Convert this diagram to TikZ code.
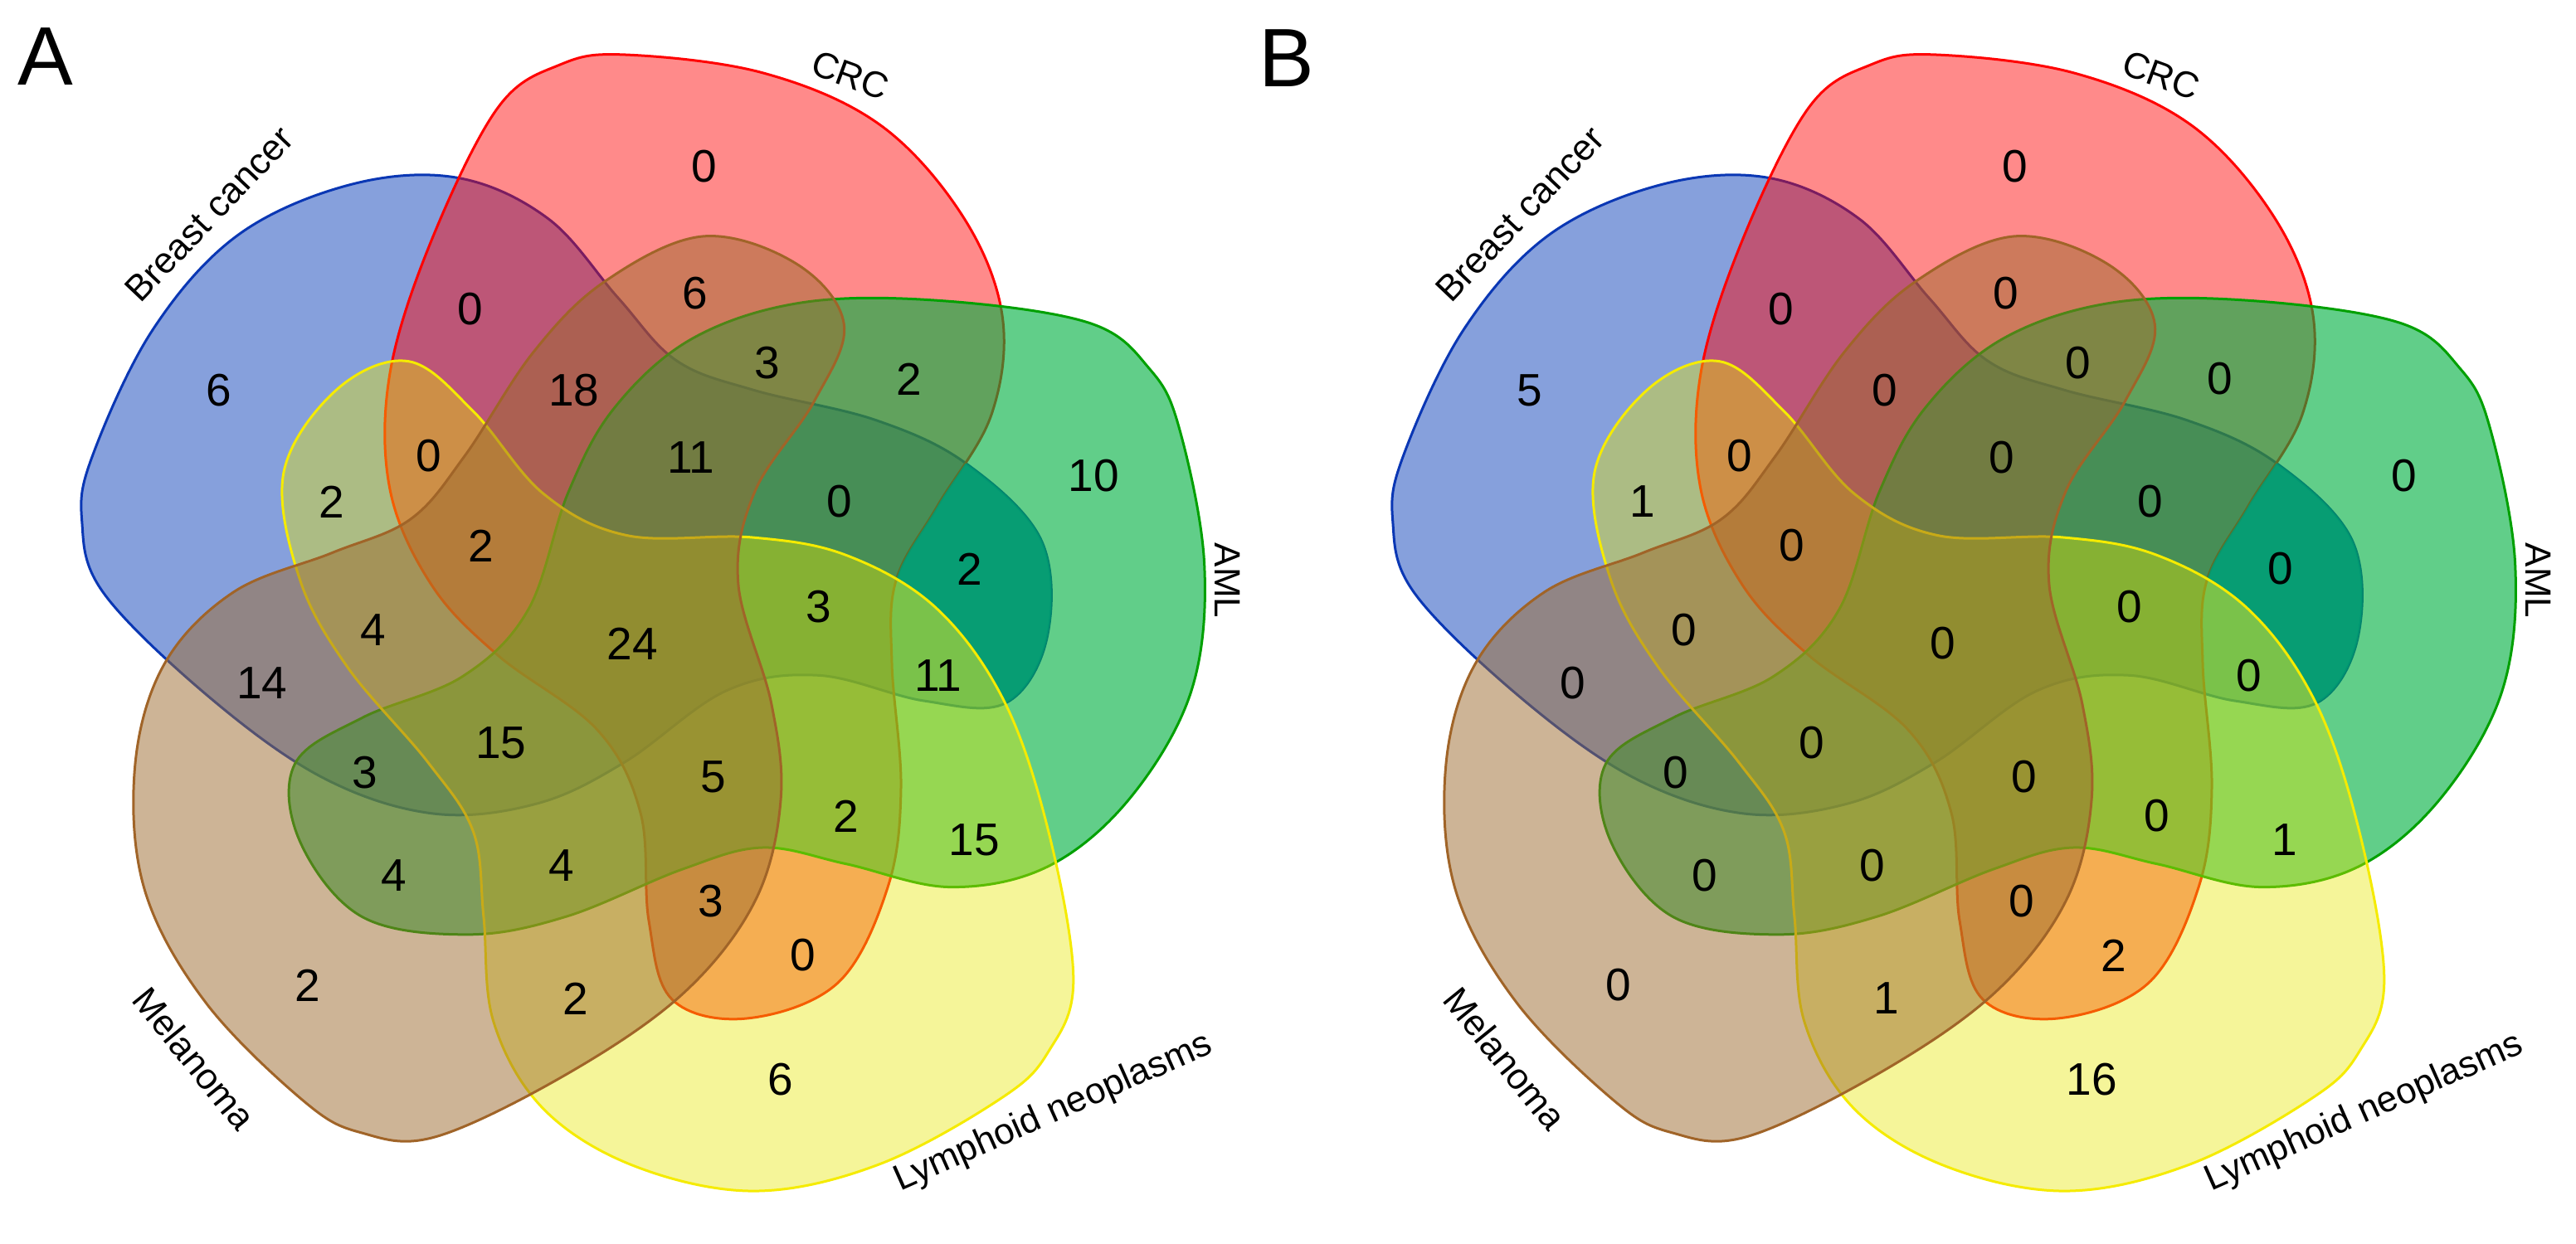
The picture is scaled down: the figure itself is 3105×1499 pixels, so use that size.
\documentclass[tikz,border=0pt]{standalone}
\usepackage{fontspec}
\setmainfont{Liberation Sans}
\definecolor{bluef}{RGB}{32,80,192}
\definecolor{bluel}{RGB}{10,55,180}
\definecolor{redf}{RGB}{255,0,0}
\definecolor{redl}{RGB}{255,0,0}
\definecolor{greenf}{RGB}{0,177,66}
\definecolor{greenl}{RGB}{0,160,0}
\definecolor{yellowf}{RGB}{230,230,0}
\definecolor{yellowl}{RGB}{245,235,0}
\definecolor{brownf}{RGB}{157,107,47}
\definecolor{brownl}{RGB}{160,100,40}
\definecolor{tealfix}{RGB}{0,155,114}
\tikzset{
  vshape/.style={insert path={plot[smooth cycle,tension=0.6] coordinates{
    (-21,-699) (145,-677) (285,-615) (385,-505) (433,-385) (420,-265)
    (355,-155) (305,-65) (300,35) (311,185) (295,305) (235,420) (125,463)
    (35,440) (7,345) (-3,215) (-55,115) (-175,25) (-255,-60) (-305,-175)
    (-305,-315) (-255,-475) (-175,-635) (-100,-687)}}},
  notshape/.style={insert path={(-1600,-1600) -- (-1600,1600) -- (1600,1600)
    -- (1600,-1600) -- cycle}},
  bluepos/.style={shift={(783,745)},rotate=72},
  redpos/.style={shift={(775,765)}},
  greenpos/.style={shift={(763,752)},rotate=-72},
  yellowpos/.style={shift={(779,771)},rotate=216},
  brownpos/.style={shift={(776,761)},rotate=142.3},
  num/.style={font=\fontsize{55}{60}\selectfont, inner sep=0pt},
  lab/.style={font=\fontsize{44}{48}\selectfont, inner sep=0pt},
  plet/.style={font=\fontsize{100}{110}\selectfont, inner sep=0pt},
  outl/.style={line width=3pt}
}
\newcommand\vennshapes{%
  \path[bluepos,fill=bluef,fill opacity=0.54,draw=bluel,outl] [vshape];
  \path[redpos,fill=redf,fill opacity=0.46,draw=redl,outl] [vshape];
  \path[greenpos,fill=greenf,fill opacity=0.62,draw=greenl,outl] [vshape];
  \begin{scope}
    \clip[bluepos] [vshape];
    \clip[greenpos] [vshape];
    \clip[redpos] [notshape] [vshape];
    \clip[yellowpos] [notshape] [vshape];
    \clip[brownpos] [notshape] [vshape];
    \fill[tealfix, fill opacity=0.85] (-100,-100) rectangle (1700,1600);
  \end{scope}
  \path[yellowpos,fill=yellowf,fill opacity=0.4,draw=yellowl,outl] [vshape];
  \path[brownpos,fill=brownf,fill opacity=0.5,draw=brownl,outl] [vshape];
}
\newcommand\vennlabels[1]{%
  \node[lab, rotate=46.5] (#1bc) at (252,258) {Breast cancer};
  \node[lab, rotate=-20] (#1crc) at (1025,91) {CRC};
  \node[lab, rotate=-90] (#1aml) at (1480,700) {AML};
  \node[lab, rotate=24] (#1lym) at (1270,1342) {Lymphoid neoplasms};
  \node[lab, rotate=-51] (#1mel) at (234,1276) {Melanoma};
}
\begin{document}
\begin{tikzpicture}[x=1pt,y=-1pt]
\useasboundingbox (0,0) rectangle (3105,1499);
\fill[white] (0,0) rectangle (3105,1499);
% Panel A
\node[plet] (letA) at (55,68) {A};
\vennshapes
\vennlabels{a}
\foreach \x/\y/\t [count=\i] in {264/471/6, 567/373/0, 692/471/18, 517/550/0,
  400/605/2, 580/658/2, 450/760/4, 316/824/14, 604/896/15, 440/932/3,
  475/1056/4, 677/1044/4, 371/1188/2, 694/1204/2, 762/776/24, 849/201/0,
  838/354/6, 925/438/3, 1096/457/2, 1318/574/10, 833/552/11, 1012/605/0,
  1169/686/2, 987/732/3, 1131/815/11, 860/937/5, 1020/984/2, 1174/1013/15,
  857/1087/3, 968/1152/0, 941/1302/6}
  \node[num] (na\i) at (\x,\y) {\t};
% Panel B
\node[plet] (letB) at (1551,70) {B};
\begin{scope}[xshift=1580pt]
\vennshapes
\vennlabels{b}
\foreach \x/\y/\t [count=\i] in {264/471/5, 567/373/0, 692/471/0, 517/550/0,
  400/605/1, 580/658/0, 450/760/0, 316/824/0, 604/896/0, 440/932/0,
  475/1056/0, 677/1044/0, 371/1188/0, 694/1204/1, 762/776/0, 849/201/0,
  838/354/0, 925/438/0, 1096/457/0, 1318/574/0, 833/552/0, 1012/605/0,
  1169/686/0, 987/732/0, 1131/815/0, 860/937/0, 1020/984/0, 1174/1013/1,
  857/1087/0, 968/1152/2, 941/1302/16}
  \node[num] (nb\i) at (\x,\y) {\t};
\end{scope}
\end{tikzpicture}
\end{document}
